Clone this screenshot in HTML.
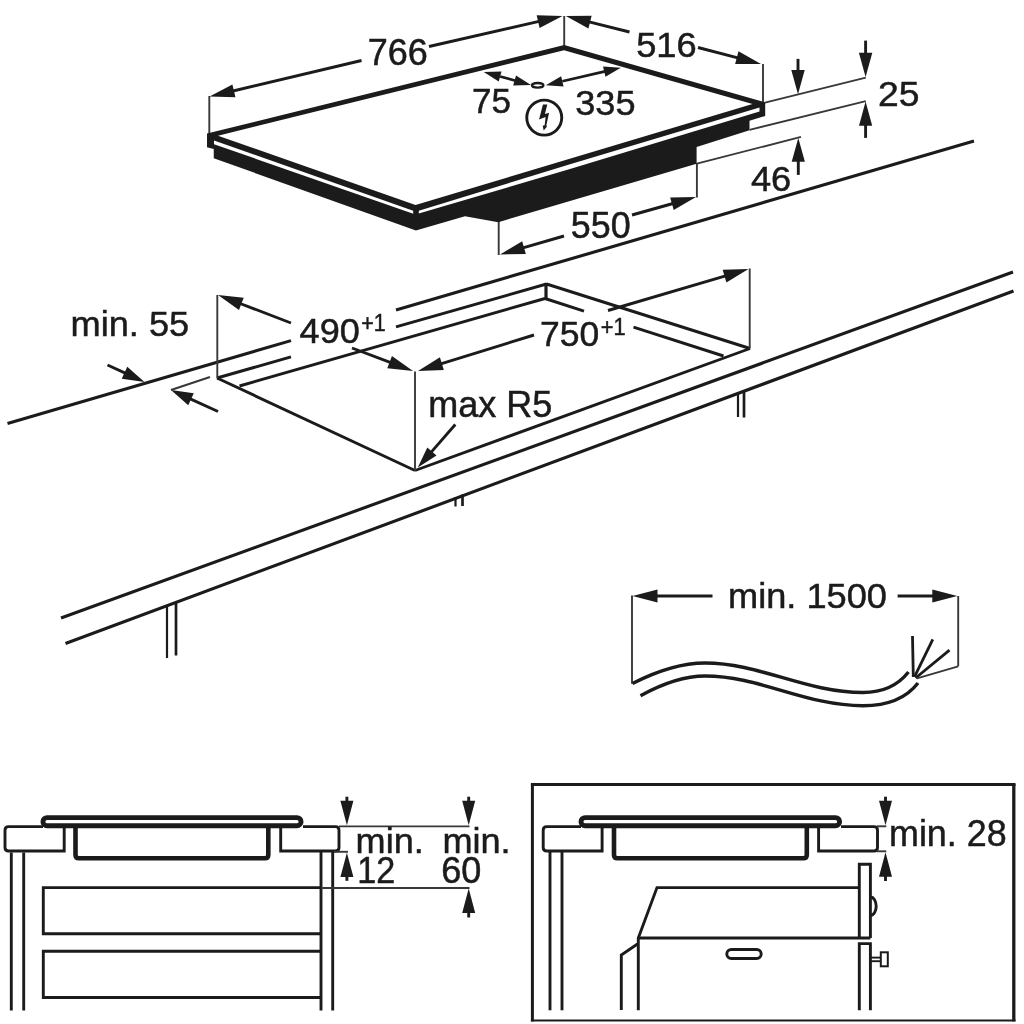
<!DOCTYPE html>
<html><head><meta charset="utf-8"><title>Hob installation</title>
<style>
html,body{margin:0;padding:0;background:#fff;}
body{width:1024px;height:1024px;overflow:hidden;}
svg{display:block;will-change:transform;filter:grayscale(1);}
text{font-family:"Liberation Sans",sans-serif;fill:#1b1b1b;stroke:#1b1b1b;stroke-width:0.5px;}
</style></head><body>
<svg width="1024" height="1024" viewBox="0 0 1024 1024">
<rect width="1024" height="1024" fill="#fff"/>
<line x1="7.50" y1="423.50" x2="291.00" y2="340.63" stroke="#1b1b1b" stroke-width="3.1" stroke-linecap="butt"/>
<line x1="396.00" y1="309.94" x2="974.00" y2="140.99" stroke="#1b1b1b" stroke-width="3.1" stroke-linecap="butt"/>
<line x1="61.00" y1="618.00" x2="1013.00" y2="272.00" stroke="#1b1b1b" stroke-width="3.1" stroke-linecap="butt"/>
<line x1="65.50" y1="643.50" x2="1013.50" y2="291.00" stroke="#1b1b1b" stroke-width="3.1" stroke-linecap="butt"/>
<line x1="167.00" y1="606.00" x2="167.00" y2="658.00" stroke="#1b1b1b" stroke-width="2.2" stroke-linecap="butt"/>
<line x1="176.00" y1="603.00" x2="176.00" y2="655.50" stroke="#1b1b1b" stroke-width="2.7" stroke-linecap="butt"/>
<line x1="455.50" y1="497.00" x2="455.50" y2="506.50" stroke="#1b1b1b" stroke-width="2.2" stroke-linecap="butt"/>
<line x1="462.50" y1="494.50" x2="462.50" y2="506.00" stroke="#1b1b1b" stroke-width="2.7" stroke-linecap="butt"/>
<line x1="738.00" y1="392.00" x2="738.00" y2="417.00" stroke="#1b1b1b" stroke-width="2.2" stroke-linecap="butt"/>
<line x1="744.00" y1="390.00" x2="744.00" y2="417.50" stroke="#1b1b1b" stroke-width="2.7" stroke-linecap="butt"/>
<line x1="217.00" y1="378.00" x2="291.00" y2="356.89" stroke="#1b1b1b" stroke-width="2.9" stroke-linecap="butt"/>
<line x1="396.00" y1="326.93" x2="546.50" y2="284.00" stroke="#1b1b1b" stroke-width="2.9" stroke-linecap="butt"/>
<line x1="239.50" y1="386.00" x2="545.00" y2="298.50" stroke="#1b1b1b" stroke-width="2.9" stroke-linecap="butt"/>
<line x1="546.00" y1="283.00" x2="546.00" y2="299.50" stroke="#1b1b1b" stroke-width="3.2" stroke-linecap="butt"/>
<line x1="546.50" y1="284.00" x2="750.00" y2="348.50" stroke="#1b1b1b" stroke-width="2.9" stroke-linecap="butt"/>
<line x1="545.00" y1="298.50" x2="584.00" y2="311.06" stroke="#1b1b1b" stroke-width="2.9" stroke-linecap="butt"/>
<line x1="633.50" y1="327.01" x2="723.50" y2="356.00" stroke="#1b1b1b" stroke-width="2.9" stroke-linecap="butt"/>
<line x1="217.00" y1="378.00" x2="415.00" y2="470.50" stroke="#1b1b1b" stroke-width="2.9" stroke-linecap="butt"/>
<line x1="415.00" y1="470.50" x2="750.00" y2="348.50" stroke="#1b1b1b" stroke-width="2.9" stroke-linecap="butt"/>
<line x1="217.30" y1="295.00" x2="217.30" y2="378.00" stroke="#383838" stroke-width="1.9" stroke-linecap="butt"/>
<line x1="415.00" y1="371.50" x2="415.00" y2="470.50" stroke="#383838" stroke-width="1.9" stroke-linecap="butt"/>
<line x1="749.70" y1="268.50" x2="749.70" y2="348.50" stroke="#383838" stroke-width="1.9" stroke-linecap="butt"/>
<polygon points="218.00,295.00 243.71,297.79 238.98,310.12" fill="#1b1b1b" stroke="none" stroke-width="0" stroke-linejoin="miter"/>
<line x1="291.00" y1="323.00" x2="239.47" y2="303.24" stroke="#1b1b1b" stroke-width="2.9" stroke-linecap="butt"/>
<polygon points="413.00,371.00 387.28,368.36 391.94,356.00" fill="#1b1b1b" stroke="none" stroke-width="0" stroke-linejoin="miter"/>
<line x1="352.00" y1="348.00" x2="391.48" y2="362.89" stroke="#1b1b1b" stroke-width="2.9" stroke-linecap="butt"/>
<polygon points="418.00,371.00 439.92,357.29 443.83,369.89" fill="#1b1b1b" stroke="none" stroke-width="0" stroke-linejoin="miter"/>
<line x1="534.00" y1="335.00" x2="439.97" y2="364.18" stroke="#1b1b1b" stroke-width="2.9" stroke-linecap="butt"/>
<polygon points="748.50,269.00 726.39,282.41 722.65,269.75" fill="#1b1b1b" stroke="none" stroke-width="0" stroke-linejoin="miter"/>
<line x1="608.00" y1="310.50" x2="726.44" y2="275.52" stroke="#1b1b1b" stroke-width="2.9" stroke-linecap="butt"/>
<polygon points="417.80,467.60 427.31,447.38 436.51,455.38" fill="#1b1b1b" stroke="none" stroke-width="0" stroke-linejoin="miter"/>
<line x1="455.30" y1="424.50" x2="430.60" y2="452.89" stroke="#1b1b1b" stroke-width="2.9" stroke-linecap="butt"/>
<polygon points="144.50,382.00 121.75,378.81 127.26,366.82" fill="#1b1b1b" stroke="none" stroke-width="0" stroke-linejoin="miter"/>
<line x1="107.50" y1="365.00" x2="126.33" y2="373.65" stroke="#1b1b1b" stroke-width="2.9" stroke-linecap="butt"/>
<polygon points="171.00,390.00 193.75,393.15 188.26,405.15" fill="#1b1b1b" stroke="none" stroke-width="0" stroke-linejoin="miter"/>
<line x1="218.00" y1="411.50" x2="189.19" y2="398.32" stroke="#1b1b1b" stroke-width="2.9" stroke-linecap="butt"/>
<line x1="171.00" y1="390.00" x2="210.00" y2="377.00" stroke="#383838" stroke-width="1.9" stroke-linecap="butt"/>
<line x1="209.30" y1="96.00" x2="209.30" y2="134.00" stroke="#383838" stroke-width="1.9" stroke-linecap="butt"/>
<line x1="564.20" y1="16.00" x2="564.20" y2="46.00" stroke="#383838" stroke-width="1.9" stroke-linecap="butt"/>
<line x1="763.00" y1="64.00" x2="763.00" y2="103.00" stroke="#383838" stroke-width="1.9" stroke-linecap="butt"/>
<line x1="498.70" y1="221.00" x2="498.70" y2="255.00" stroke="#383838" stroke-width="1.9" stroke-linecap="butt"/>
<line x1="696.90" y1="163.00" x2="696.90" y2="197.50" stroke="#383838" stroke-width="1.9" stroke-linecap="butt"/>
<polygon points="207.00,133.60 564.20,45.00 765.20,102.30 765.20,116.00 749.50,120.80 749.50,130.30 696.60,147.00 696.60,163.75 498.30,222.20 465.00,216.30 415.90,230.40 213.75,158.30 213.75,149.00 207.00,147.30" fill="#1b1b1b" stroke="none" stroke-width="0" stroke-linejoin="miter"/>
<polygon points="218.00,135.70 564.00,50.20 752.50,103.90 415.50,205.00" fill="#fff" stroke="none" stroke-width="0" stroke-linejoin="miter"/>
<polygon points="214.00,140.40 413.20,210.70 413.20,213.80 214.00,144.20" fill="#fff" stroke="none" stroke-width="0" stroke-linejoin="miter"/>
<polygon points="418.80,210.80 570.00,164.30 759.50,107.40 759.50,111.40 570.00,169.00 418.80,213.60" fill="#fff" stroke="none" stroke-width="0" stroke-linejoin="miter"/>
<line x1="765.00" y1="102.60" x2="865.80" y2="77.70" stroke="#383838" stroke-width="1.9" stroke-linecap="butt"/>
<line x1="749.50" y1="129.80" x2="865.80" y2="101.10" stroke="#383838" stroke-width="1.9" stroke-linecap="butt"/>
<line x1="696.90" y1="163.60" x2="801.00" y2="136.90" stroke="#383838" stroke-width="1.9" stroke-linecap="butt"/>
<polygon points="798.00,94.30 791.30,70.00 804.70,70.00" fill="#1b1b1b" stroke="none" stroke-width="0" stroke-linejoin="miter"/>
<line x1="798.00" y1="58.90" x2="798.00" y2="72.00" stroke="#1b1b1b" stroke-width="2.9" stroke-linecap="butt"/>
<polygon points="865.60,77.00 858.90,52.70 872.30,52.70" fill="#1b1b1b" stroke="none" stroke-width="0" stroke-linejoin="miter"/>
<line x1="865.60" y1="40.60" x2="865.60" y2="54.70" stroke="#1b1b1b" stroke-width="2.9" stroke-linecap="butt"/>
<polygon points="865.60,101.50 872.20,125.70 859.00,125.70" fill="#1b1b1b" stroke="none" stroke-width="0" stroke-linejoin="miter"/>
<line x1="865.60" y1="137.90" x2="865.60" y2="123.70" stroke="#1b1b1b" stroke-width="2.9" stroke-linecap="butt"/>
<polygon points="798.30,137.90 804.90,161.70 791.70,161.70" fill="#1b1b1b" stroke="none" stroke-width="0" stroke-linejoin="miter"/>
<line x1="798.30" y1="174.90" x2="798.30" y2="159.70" stroke="#1b1b1b" stroke-width="2.9" stroke-linecap="butt"/>
<polygon points="209.60,96.60 232.40,84.40 235.45,97.24" fill="#1b1b1b" stroke="none" stroke-width="0" stroke-linejoin="miter"/>
<line x1="361.50" y1="60.50" x2="231.98" y2="91.28" stroke="#1b1b1b" stroke-width="2.9" stroke-linecap="butt"/>
<polygon points="562.50,16.00 539.60,28.00 536.66,15.13" fill="#1b1b1b" stroke="none" stroke-width="0" stroke-linejoin="miter"/>
<line x1="429.00" y1="46.50" x2="540.08" y2="21.12" stroke="#1b1b1b" stroke-width="2.9" stroke-linecap="butt"/>
<polygon points="565.80,16.00 591.65,15.69 588.44,28.49" fill="#1b1b1b" stroke="none" stroke-width="0" stroke-linejoin="miter"/>
<line x1="629.50" y1="32.00" x2="588.11" y2="21.60" stroke="#1b1b1b" stroke-width="2.9" stroke-linecap="butt"/>
<polygon points="761.00,64.00 735.14,64.05 738.49,51.28" fill="#1b1b1b" stroke="none" stroke-width="0" stroke-linejoin="miter"/>
<line x1="698.00" y1="47.50" x2="738.75" y2="58.17" stroke="#1b1b1b" stroke-width="2.9" stroke-linecap="butt"/>
<polygon points="500.00,254.50 522.18,241.22 525.85,253.90" fill="#1b1b1b" stroke="none" stroke-width="0" stroke-linejoin="miter"/>
<line x1="564.00" y1="236.00" x2="522.10" y2="248.11" stroke="#1b1b1b" stroke-width="2.9" stroke-linecap="butt"/>
<polygon points="696.00,197.00 673.72,210.12 670.15,197.42" fill="#1b1b1b" stroke="none" stroke-width="0" stroke-linejoin="miter"/>
<line x1="632.00" y1="215.00" x2="673.86" y2="203.23" stroke="#1b1b1b" stroke-width="2.9" stroke-linecap="butt"/>
<polygon points="531.00,85.00 513.20,85.60 516.02,75.38" fill="#1b1b1b" stroke="none" stroke-width="0" stroke-linejoin="miter"/>
<polygon points="483.75,72.00 501.55,71.40 498.73,81.62" fill="#1b1b1b" stroke="none" stroke-width="0" stroke-linejoin="miter"/>
<line x1="500.14" y1="76.51" x2="516.54" y2="81.02" stroke="#1b1b1b" stroke-width="2.6" stroke-linecap="butt"/>
<polygon points="620.80,67.70 605.45,76.72 603.04,66.40" fill="#1b1b1b" stroke="none" stroke-width="0" stroke-linejoin="miter"/>
<polygon points="545.80,85.20 561.15,76.18 563.56,86.50" fill="#1b1b1b" stroke="none" stroke-width="0" stroke-linejoin="miter"/>
<line x1="562.36" y1="81.34" x2="606.19" y2="71.11" stroke="#1b1b1b" stroke-width="2.6" stroke-linecap="butt"/>
<ellipse cx="537.7" cy="85.3" rx="5.7" ry="2.3" fill="#fff" stroke="#1b1b1b" stroke-width="2.4"/>
<circle cx="544.25" cy="117.6" r="17.5" fill="none" stroke="#1b1b1b" stroke-width="2.9"/>
<polygon points="542.95,104.50 547.30,104.50 544.90,114.00 549.05,112.80 546.40,125.25 546.85,126.70 543.70,130.40 542.70,125.70 544.65,125.25 545.60,116.95 539.05,119.40" fill="#1b1b1b" stroke="none" stroke-width="0" stroke-linejoin="miter"/>
<line x1="632.00" y1="595.60" x2="632.00" y2="683.70" stroke="#383838" stroke-width="1.9" stroke-linecap="butt"/>
<line x1="958.20" y1="596.00" x2="958.20" y2="666.30" stroke="#383838" stroke-width="1.9" stroke-linecap="butt"/>
<polygon points="632.50,596.00 657.50,589.40 657.50,602.60" fill="#1b1b1b" stroke="none" stroke-width="0" stroke-linejoin="miter"/>
<line x1="712.50" y1="596.00" x2="655.50" y2="596.00" stroke="#1b1b1b" stroke-width="2.9" stroke-linecap="butt"/>
<polygon points="957.30,596.00 932.30,602.60 932.30,589.40" fill="#1b1b1b" stroke="none" stroke-width="0" stroke-linejoin="miter"/>
<line x1="897.60" y1="596.00" x2="934.30" y2="596.00" stroke="#1b1b1b" stroke-width="2.9" stroke-linecap="butt"/>
<path d="M632.5,683.5 C655,672 680,663 705,663 C760,663 805,692.5 863,692.5 C885,692.5 899,684 908.5,672" fill="none" stroke="#1b1b1b" stroke-width="3.4"/>
<path d="M640.5,695.7 C660,685 682,676 705,676 C760,676 805,705.7 863,705.7 C890,705.7 908,696 918,683" fill="none" stroke="#1b1b1b" stroke-width="3.4"/>
<line x1="912.50" y1="636.00" x2="913.30" y2="677.00" stroke="#1b1b1b" stroke-width="2.8" stroke-linecap="butt"/>
<line x1="932.80" y1="639.30" x2="914.60" y2="676.60" stroke="#1b1b1b" stroke-width="2.8" stroke-linecap="butt"/>
<line x1="949.50" y1="650.20" x2="915.60" y2="678.00" stroke="#1b1b1b" stroke-width="2.8" stroke-linecap="butt"/>
<line x1="958.20" y1="666.30" x2="917.00" y2="678.30" stroke="#383838" stroke-width="1.9" stroke-linecap="butt"/>
<path d="M64.2,828 V851 H8.6 Q5,851 5,847.4 V830.2 Q5,826.6 8.6,826.6 H43" fill="none" stroke="#1b1b1b" stroke-width="2.9"/>
<path d="M280.7,828 V851 H335.4 Q339,851 339,847.4 V830.2 Q339,826.6 335.4,826.6 H303" fill="none" stroke="#1b1b1b" stroke-width="2.9"/>
<path d="M75.5,828 V855 Q75.5,858.3 79,858.3 H264.8 Q268.3,858.3 268.3,855 V828" fill="none" stroke="#1b1b1b" stroke-width="4.6"/>
<rect x="42.95" y="817.6" width="258.1" height="8.2" rx="4.1" fill="#fff" stroke="#1b1b1b" stroke-width="4.9"/>
<line x1="11.30" y1="852.50" x2="11.30" y2="1010.50" stroke="#1b1b1b" stroke-width="2.9" stroke-linecap="butt"/>
<line x1="23.70" y1="852.50" x2="23.70" y2="1010.50" stroke="#1b1b1b" stroke-width="2.9" stroke-linecap="butt"/>
<line x1="321.00" y1="852.00" x2="321.00" y2="1010.50" stroke="#1b1b1b" stroke-width="2.9" stroke-linecap="butt"/>
<line x1="332.70" y1="852.00" x2="332.70" y2="1010.50" stroke="#1b1b1b" stroke-width="2.9" stroke-linecap="butt"/>
<path d="M321,887.6 H43.3 V933.8 H321" fill="none" stroke="#1b1b1b" stroke-width="2.9"/>
<path d="M321,951.3 H43.3 V997.5 H321" fill="none" stroke="#1b1b1b" stroke-width="2.9"/>
<line x1="339.00" y1="826.40" x2="469.50" y2="826.40" stroke="#383838" stroke-width="1.9" stroke-linecap="butt"/>
<line x1="321.00" y1="888.00" x2="469.50" y2="888.00" stroke="#383838" stroke-width="1.9" stroke-linecap="butt"/>
<line x1="334.00" y1="851.80" x2="348.00" y2="851.80" stroke="#383838" stroke-width="1.9" stroke-linecap="butt"/>
<polygon points="346.90,825.30 340.40,800.80 353.40,800.80" fill="#1b1b1b" stroke="none" stroke-width="0" stroke-linejoin="miter"/>
<line x1="346.90" y1="796.70" x2="346.90" y2="802.80" stroke="#1b1b1b" stroke-width="2.9" stroke-linecap="butt"/>
<polygon points="346.90,852.70 353.40,877.10 340.40,877.10" fill="#1b1b1b" stroke="none" stroke-width="0" stroke-linejoin="miter"/>
<line x1="346.90" y1="880.80" x2="346.90" y2="875.10" stroke="#1b1b1b" stroke-width="2.9" stroke-linecap="butt"/>
<polygon points="468.70,825.30 462.20,800.80 475.20,800.80" fill="#1b1b1b" stroke="none" stroke-width="0" stroke-linejoin="miter"/>
<line x1="468.70" y1="796.70" x2="468.70" y2="802.80" stroke="#1b1b1b" stroke-width="2.9" stroke-linecap="butt"/>
<polygon points="468.70,888.60 475.20,913.10 462.20,913.10" fill="#1b1b1b" stroke="none" stroke-width="0" stroke-linejoin="miter"/>
<line x1="468.70" y1="917.50" x2="468.70" y2="911.10" stroke="#1b1b1b" stroke-width="2.9" stroke-linecap="butt"/>
<line x1="530.90" y1="784.50" x2="1015.50" y2="784.50" stroke="#1b1b1b" stroke-width="3.0" stroke-linecap="butt"/>
<line x1="532.40" y1="784.00" x2="532.40" y2="1021.40" stroke="#1b1b1b" stroke-width="3.0" stroke-linecap="butt"/>
<line x1="1013.80" y1="784.00" x2="1013.80" y2="1021.40" stroke="#1b1b1b" stroke-width="3.3" stroke-linecap="butt"/>
<line x1="530.90" y1="1020.50" x2="1015.50" y2="1020.50" stroke="#1b1b1b" stroke-width="1.9" stroke-linecap="butt"/>
<path d="M602.1,828 V851 H546.8 Q543.2,851 543.2,847.4 V830.2 Q543.2,826.6 546.8,826.6 H581" fill="none" stroke="#1b1b1b" stroke-width="2.9"/>
<path d="M818.6,828 V851 H873.9 Q877.5,851 877.5,847.4 V830.2 Q877.5,826.6 873.9,826.6 H841" fill="none" stroke="#1b1b1b" stroke-width="2.9"/>
<path d="M614,828 V855 Q614,858.3 617.5,858.3 H803.3 Q806.8,858.3 806.8,855 V828" fill="none" stroke="#1b1b1b" stroke-width="4.6"/>
<rect x="581.0" y="817.6" width="258.6" height="8.2" rx="4.1" fill="#fff" stroke="#1b1b1b" stroke-width="4.9"/>
<line x1="550.00" y1="852.00" x2="550.00" y2="1010.30" stroke="#1b1b1b" stroke-width="2.9" stroke-linecap="butt"/>
<line x1="562.00" y1="852.00" x2="562.00" y2="1010.30" stroke="#1b1b1b" stroke-width="2.9" stroke-linecap="butt"/>
<path d="M859.3,887.6 H657 L638.3,938 V1010.3" fill="none" stroke="#1b1b1b" stroke-width="2.9"/>
<line x1="638.30" y1="938.00" x2="870.40" y2="938.00" stroke="#1b1b1b" stroke-width="2.9" stroke-linecap="butt"/>
<path d="M637.5,944 L621.3,955 V1010" fill="none" stroke="#1b1b1b" stroke-width="2.9"/>
<rect x="726.8" y="949.5" width="34.4" height="9" rx="4.5" fill="none" stroke="#1b1b1b" stroke-width="2.9"/>
<path d="M859.3,938 V864.2 H870.4 V938" fill="none" stroke="#1b1b1b" stroke-width="2.9"/>
<path d="M859.3,1010.3 V943.6 H870.4 V1010.3" fill="none" stroke="#1b1b1b" stroke-width="2.9"/>
<path d="M870.4,897 A5.8,9.2 0 0 1 870.4,915.4" fill="none" stroke="#1b1b1b" stroke-width="2.9"/>
<line x1="870.40" y1="957.60" x2="880.50" y2="957.60" stroke="#1b1b1b" stroke-width="1.9" stroke-linecap="butt"/>
<line x1="870.40" y1="961.20" x2="880.50" y2="961.20" stroke="#1b1b1b" stroke-width="1.9" stroke-linecap="butt"/>
<rect x="880.8" y="952.3" width="7" height="14" fill="none" stroke="#1b1b1b" stroke-width="2"/>
<line x1="877.00" y1="826.30" x2="886.30" y2="826.30" stroke="#383838" stroke-width="1.9" stroke-linecap="butt"/>
<line x1="877.00" y1="851.30" x2="886.30" y2="851.30" stroke="#383838" stroke-width="1.9" stroke-linecap="butt"/>
<polygon points="885.50,825.20 879.00,800.70 892.00,800.70" fill="#1b1b1b" stroke="none" stroke-width="0" stroke-linejoin="miter"/>
<line x1="885.50" y1="796.70" x2="885.50" y2="802.70" stroke="#1b1b1b" stroke-width="2.9" stroke-linecap="butt"/>
<polygon points="885.50,852.30 892.00,876.80 879.00,876.80" fill="#1b1b1b" stroke="none" stroke-width="0" stroke-linejoin="miter"/>
<line x1="885.50" y1="881.00" x2="885.50" y2="874.80" stroke="#1b1b1b" stroke-width="2.9" stroke-linecap="butt"/>
<text id="t0" transform="translate(367.80,65.3) scale(1.0000,1)" font-size="36">766</text>
<text id="t1" transform="translate(636.19,56.5) scale(1.0070,1)" font-size="36">516</text>
<text id="t2" transform="translate(472.05,112.7) scale(0.9730,1)" font-size="36">75</text>
<text id="t3" transform="translate(575.29,114.6) scale(1.0035,1)" font-size="36">335</text>
<text id="t4" transform="translate(877.93,106) scale(1.0351,1)" font-size="36">25</text>
<text id="t5" transform="translate(750.89,190.5) scale(1.0079,1)" font-size="36">46</text>
<text id="t6" transform="translate(570.81,238.1) scale(0.9965,1)" font-size="36">550</text>
<text id="t7" transform="translate(70.59,336.4) scale(1.0052,1)" font-size="36">min. 55</text>
<text id="t8" transform="translate(299.60,343.4) scale(1.0017,1)" font-size="36">490</text>
<text id="t9" transform="translate(361.27,331.2) scale(0.9292,1)" font-size="23">+1</text>
<text id="t10" transform="translate(539.93,346.3) scale(0.9860,1)" font-size="36">750</text>
<text id="t11" transform="translate(600.65,334.5) scale(0.9500,1)" font-size="23">+1</text>
<text id="t12" transform="translate(428.30,417) scale(1.0008,1)" font-size="36">max R5</text>
<text id="t13" transform="translate(728.09,608.3) scale(1.0052,1)" font-size="36">min. 1500</text>
<text id="t14" transform="translate(355.60,853.4) scale(1.0016,1)" font-size="36">min.</text>
<text id="t15" transform="translate(357.15,883.2) scale(0.9486,1)" font-size="36">12</text>
<text id="t16" transform="translate(442.39,853.4) scale(1.0032,1)" font-size="36">min.</text>
<text id="t17" transform="translate(441.29,883.2) scale(1.0027,1)" font-size="36">60</text>
<text id="t18" transform="translate(889.01,846.4) scale(0.9965,1)" font-size="36">min. 28</text>
</svg>
</body></html>
